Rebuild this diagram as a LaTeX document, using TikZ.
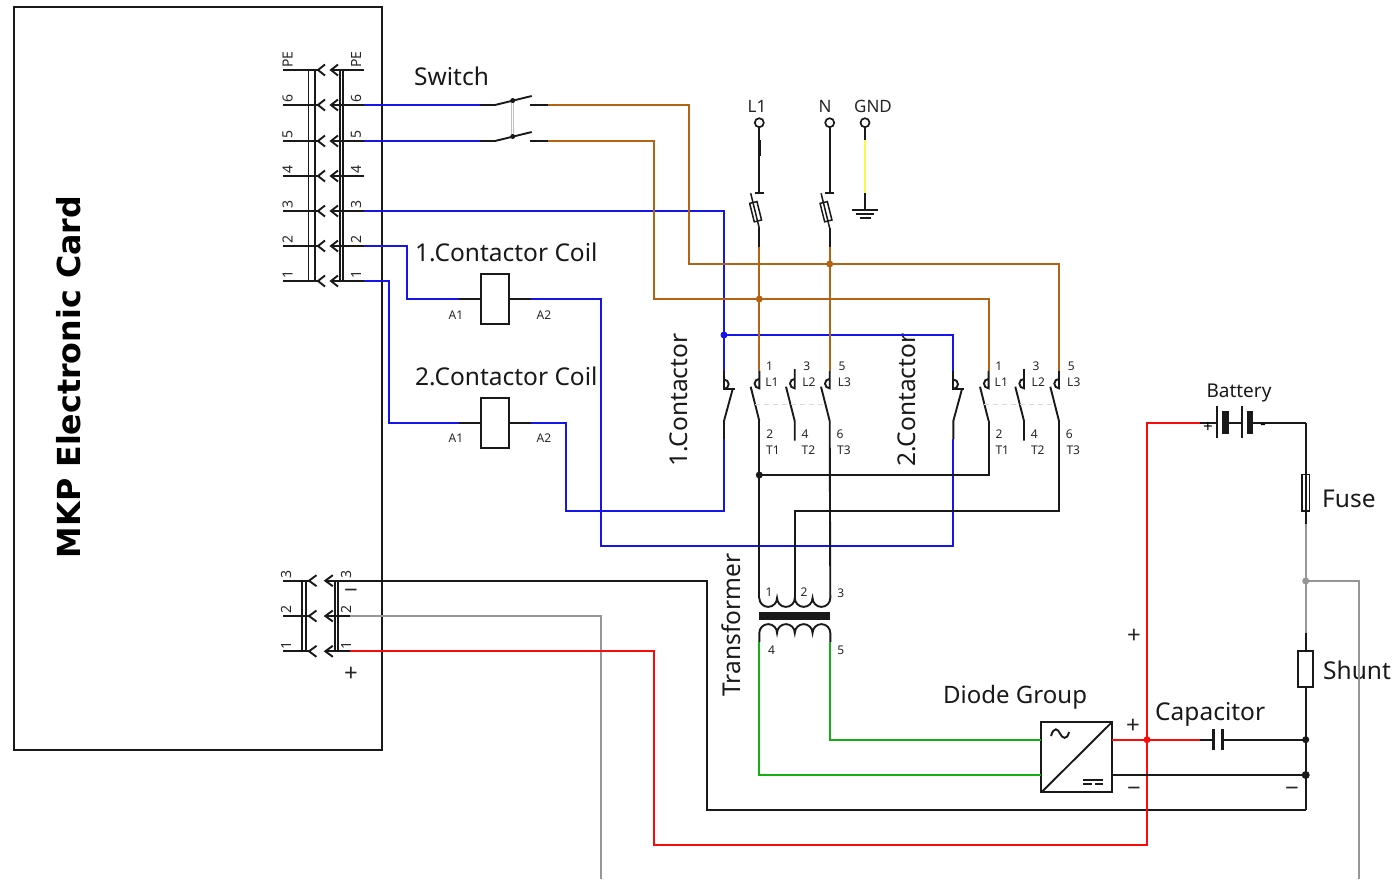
\documentclass[tikz,border=0pt]{standalone}
\usepackage{fontspec}
\usetikzlibrary{calc}
\setmainfont{Noto Sans}
\newfontfamily\boldfam{DejaVu Sans}
\definecolor{wblue}{RGB}{20,20,235}
\definecolor{wbrown}{RGB}{178,100,20}
\definecolor{wred}{RGB}{250,10,10}
\definecolor{wgray}{RGB}{150,150,150}
\definecolor{wgreen}{RGB}{20,175,20}
\definecolor{wyellow}{RGB}{250,250,70}
\newcommand{\fsz}[1]{\fontsize{#1}{#1}\selectfont}
\tikzset{
  x=1pt,y=-1pt,
  wire/.style={line width=1.9pt,line join=miter},
  blk/.style={wire,black!90},
  blu/.style={wire,wblue},
  brn/.style={wire,wbrown},
  rd/.style={wire,wred},
  gry/.style={wire,wgray},
  grn/.style={wire,wgreen},
  yel/.style={wire,wyellow},
  body/.style={draw=black!90,line width=1.9pt,fill=none,inner sep=0pt,outer sep=0pt},
  dotnode/.style={circle,fill=#1,inner sep=0pt,minimum size=7pt},
  term/.style={circle,draw=black!90,line width=1.7pt,fill=white,inner sep=0pt,minimum size=9pt},
  big/.style={font=\fsz{24.5},inner sep=0pt,text=black!90},
  mid/.style={font=\fsz{17},inner sep=0pt,text=black!85},
  small/.style={font=\fsz{12},inner sep=0pt,text=black!85},
  pinlab/.style={font=\fsz{14},inner sep=0pt,rotate=90,anchor=west,text=black!85},
  sign/.style={font=\fsz{24},inner sep=0pt,text=black!85},
}
\begin{document}
\begin{tikzpicture}
\useasboundingbox (0,0) rectangle (1398,879);

% Electronic card
\node[body,minimum width=368pt,minimum height=743pt,line width=1.6pt] (card) at (198,378.5) {};
\node[rotate=90,font=\boldfam\bfseries\fsz{31.7},inner sep=0pt] (cardlab) at (69,377) {MKP Electronic Card};

% Upper connector
\foreach \y/\t in {70/PE,105/6,141/5,176/4,211/3,246/2,281/1}{
  \coordinate (ula\t) at (283,\y);
  \coordinate (ulb\t) at (318,\y);
  \coordinate (ura\t) at (331,\y);
  \coordinate (urb\t) at (364,\y);
  \draw[blk] (ula\t) -- (ulb\t);
  \draw[blk] (ura\t) -- (urb\t);
  \draw[blk] ($(ulb\t)+(7,-5.5)$) -- (ulb\t) -- ($(ulb\t)+(7,5.5)$);
  \draw[blk] ($(ura\t)+(7,-5.5)$) -- (ura\t) -- ($(ura\t)+(7,5.5)$);
  \node[pinlab] (ult\t) at (287.5,\y-2) {\t};
  \node[pinlab] (urt\t) at (356,\y-2) {\t};
}
\draw[blk,line width=1.5pt] (308.7,70) -- (308.7,281) (315,70) -- (315,281);
\draw[blk,line width=1.8pt] (340,70) -- (340,281) (343,70) -- (343,281);

% Lower connector
\foreach \y/\t in {580.7/3,616/2,651.3/1}{
  \coordinate (lla\t) at (283,\y);
  \coordinate (llb\t) at (309,\y);
  \coordinate (lra\t) at (325.3,\y);
  \coordinate (lrb\t) at (350,\y);
  \draw[blk] (lla\t) -- (llb\t);
  \draw[blk] (lra\t) -- (lrb\t);
  \draw[blk] ($(llb\t)+(7.5,-5.5)$) -- (llb\t) -- ($(llb\t)+(7.5,5.5)$);
  \draw[blk] ($(lra\t)+(7.5,-5.5)$) -- (lra\t) -- ($(lra\t)+(7.5,5.5)$);
  \node[pinlab] (llt\t) at (286,\y-2) {\t};
  \node[pinlab] (lrt\t) at (346,\y-2) {\t};
}
\draw[blk,line width=1.6pt] (301.7,580.7) -- (301.7,651.3) (306,580.7) -- (306,651.3);
\draw[blk,line width=1.6pt] (334.7,580.7) -- (334.7,651.3) (338,580.7) -- (338,651.3);
\node[sign] (cminus) at (351,594) {−};
\node[sign] (cplus) at (351,674) {+};

% Switch
\node[big,anchor=west] (swlab) at (414,76.5) {Switch};
\coordinate (swIa) at (480,105);   \coordinate (swIb) at (495,105);
\coordinate (swIc) at (531.7,96);  \coordinate (swId) at (512.7,100.5);
\coordinate (swIe) at (530,105);   \coordinate (swIf) at (548,105);
\coordinate (swJa) at (480,141); \coordinate (swJb) at (495,141);
\coordinate (swJc) at (531.7,132);\coordinate (swJd) at (512.7,136.5);
\coordinate (swJe) at (530,141); \coordinate (swJf) at (548,141);
\draw[black!25,line width=3pt] (swId) -- (swJd);
\draw[white,line width=1.2pt] (swId) -- (swJd);
\draw[blk] (swIa) -- (swIb) -- (swIc) (swIe) -- (swIf);
\draw[blk] (swJa) -- (swJb) -- (swJc) (swJe) -- (swJf);
\fill[black!90] (swId) circle (2.5pt) (swJd) circle (2.5pt);

% Coils
\node[body,minimum width=28.5pt,minimum height=50pt] (coilA) at (495,299) {};
\node[body,minimum width=28.5pt,minimum height=50pt] (coilB) at (495,422.7) {};
\coordinate (cAl) at (459.3,299); \coordinate (cAr) at (531,299);
\coordinate (cBl) at (459.3,422.7); \coordinate (cBr) at (531,422.7);
\draw[blk] (cAl) -- (coilA.west) (coilA.east) -- (cAr);
\draw[blk] (cBl) -- (coilB.west) (coilB.east) -- (cBr);
\node[small] (a1A) at (456,315) {A1};
\node[small] (a2A) at (544,315) {A2};
\node[small] (a1B) at (456,438) {A1};
\node[small] (a2B) at (544,438) {A2};
\node[big,anchor=west] (coilAlab) at (415,252.5) {1.Contactor Coil};
\node[big,anchor=west] (coilBlab) at (415,376.5) {2.Contactor Coil};

% Mains terminals
\coordinate (L1a) at (759.3,140); \coordinate (L1b) at (759.3,155.7); \coordinate (L1c) at (759.3,193.3);
\coordinate (Na) at (829.7,140);  \coordinate (Nb) at (829.7,193.3);
\coordinate (Ga) at (865,140);    \coordinate (Gb) at (865,193);    \coordinate (Gc) at (865,210);
\node[mid] (L1lab) at (757,106) {L1};
\node[mid] (Nlab) at (825,106) {N};
\node[mid] (Glab) at (873,106) {GND};
\draw[blk] (759.3,122.7) -- (L1c);
\draw[blk,line width=3.4pt] (L1a) -- (L1b);
\draw[blk] (829.7,122.7) -- (Nb);
\draw[blk] (865,122.7) -- (Ga);
\draw[yel] (Ga) -- (Gb);
\draw[blk] (Gb) -- (Gc);
\draw[blk] (851.7,210) -- (878,210);
\draw[blk] (856,214.3) -- (874,214.3);
\draw[blk] (859.7,218.3) -- (871,218.3);
\node[term] (L1t) at (759.3,122.7) {};
\node[term] (Nt) at (829.7,122.7) {};
\node[term] (Gt) at (865,122.7) {};
\foreach \n/\x in {L/759.3,M/829.7}{
  \coordinate (f\n a) at (\x-8.6,193.3);
  \coordinate (f\n b) at (\x,228.3);
  \coordinate (f\n c) at (\x,246.7);
  \draw[blk] (\x-4.5,193.3) -- (\x+4.5,193.3);
  \draw[blk,line width=1.5pt] (f\n a) -- (f\n b);
  \draw[blk] (f\n b) -- (f\n c);
  \node[body,rotate=-76,minimum width=19pt,minimum height=7.5pt,line width=1.5pt] (f\n r) at (\x-3.7,211.7) {};
}

% Contactors
\foreach \c/\dx in {1/0,2/229.3}{
\begin{scope}[xshift=\dx pt]
  \coordinate (ncT\c) at (724,370.7);
  \coordinate (ncB\c) at (724,439);
  \coordinate (aT\c) at (759.3,370.7);
  \coordinate (bT\c) at (794.7,369);
  \coordinate (cT\c) at (829.7,370.7);
  \coordinate (aK\c) at (759.3,421);
  \coordinate (bK\c) at (794.7,421);
  \coordinate (cK\c) at (829.7,421);
  \draw[blk] (ncT\c) -- (724,389) -- (735,389);
  \draw[blk] (724,379.5) arc[start angle=90,end angle=-90,radius=4.7pt];
  \draw[blk] (732.7,389) -- (724,421) -- (ncB\c);
  \draw[blk] (aT\c) -- (759.3,388.3) arc[start angle=270,end angle=90,radius=4.7pt];
  \draw[blk] (bT\c) -- (794.7,388.3) arc[start angle=270,end angle=90,radius=4.7pt];
  \draw[blk] (cT\c) -- (829.7,388.3) arc[start angle=270,end angle=90,radius=4.7pt];
  \draw[blk] (750.7,386.7) -- (aK\c);
  \draw[blk] (786,386.7) -- (bK\c) -- (794.7,440.7);
  \draw[blk] (821,386.7) -- (cK\c);
  \draw[black!15,line width=1pt,dash pattern=on 5pt off 4pt] (755,404.3) -- (827,404.3);
  \node[small] (n1\c) at (769.5,366) {1};
  \node[small] (l1\c) at (772,382) {L1};
  \node[small] (n3\c) at (806.7,366) {3};
  \node[small] (l2\c) at (809,382) {L2};
  \node[small] (n5\c) at (842,366) {5};
  \node[small] (l3\c) at (844.5,382) {L3};
  \node[small] (n2\c) at (769.7,434) {2};
  \node[small] (t1\c) at (773,450) {T1};
  \node[small] (n4\c) at (805,434) {4};
  \node[small] (t2\c) at (808.5,450) {T2};
  \node[small] (n6\c) at (840,434) {6};
  \node[small] (t3\c) at (844,450) {T3};
\end{scope}
}
\node[big,rotate=90] (k1lab) at (679,400) {1.Contactor};
\node[big,rotate=90] (k2lab) at (907,400) {2.Contactor};

% Transformer
\node[big,rotate=90] (tlab) at (731,625) {Transformer};
\coordinate (tpA) at (759.3,598);
\coordinate (tpB) at (794.8,598);
\coordinate (tpC) at (830.3,598);
\coordinate (tsA) at (759.3,642);
\coordinate (tsB) at (830.3,642);
\node[fill=black!90,minimum width=71pt,minimum height=8.5pt,inner sep=0pt] (core) at (794.8,616) {};
\draw[blk] (tpA) arc[start angle=180,end angle=360,radius=8.875pt]
  arc[start angle=180,end angle=360,radius=8.875pt]
  arc[start angle=180,end angle=360,radius=8.875pt]
  arc[start angle=180,end angle=360,radius=8.875pt];
\draw[blk] (tsA) -- (759.3,633) arc[start angle=180,end angle=0,radius=8.875pt]
  arc[start angle=180,end angle=0,radius=8.875pt]
  arc[start angle=180,end angle=0,radius=8.875pt]
  arc[start angle=180,end angle=0,radius=8.875pt] -- (tsB);
\node[small] (tn1) at (769,592) {1};
\node[small] (tn2) at (804,592) {2};
\node[small] (tn3) at (840.7,593) {3};
\node[small] (tn4) at (771.5,650) {4};
\node[small] (tn5) at (840.7,650) {5};

% Diode group
\node[body,minimum width=70.7pt,minimum height=70.3pt] (diode) at (1076.7,757.2) {};
\draw[blk] (diode.south west) -- (diode.north east);
\draw[blk] (1051,736) .. controls (1054,726) and (1058,729) .. (1060,733.5) .. controls (1062,738) and (1067,741) .. (1069,732);
\draw[blk,line width=1.4pt] (1083.3,780) -- (1103.3,780);
\draw[blk,line width=1.4pt] (1083.3,784) -- (1091.5,784) (1095,784) -- (1103.3,784);
\node[big,anchor=west,font=\fsz{24}] (dlab) at (943,697) {Diode Group};
\node[sign] (dplus) at (1133,726) {+};
\node[sign] (dminus) at (1134,792) {−};
\node[sign] (rplus) at (1134,636) {+};
\node[sign] (sminus) at (1292,792) {−};
\coordinate (dP) at (1112,739.7);
\coordinate (dM) at (1112,775);
\coordinate (dGa) at (1041.3,739.7);
\coordinate (dGb) at (1041.3,775);

% Battery
\coordinate (batL) at (1200,422.7);
\coordinate (batM) at (1241.7,422.7);
\coordinate (batR) at (1305.7,422.7);
\draw[blk] (batL) -- (1217.3,422.7);
\draw[blk] (1229,422.7) -- (batM);
\draw[blk] (1253,422.7) -- (batR);
\draw[blk] (1217.3,406) -- (1217.3,438);
\draw[blk] (1241.7,406) -- (1241.7,438);
\node[fill=black!90,minimum width=6.7pt,minimum height=23pt,inner sep=0pt] (batA) at (1225.7,422.7) {};
\node[fill=black!90,minimum width=6.7pt,minimum height=23pt,inner sep=0pt] (batB) at (1250,422.7) {};
\node[font=\fsz{19},inner sep=0pt,text=black!90] (batlab) at (1239,393) {Battery};
\node[font=\fsz{17},inner sep=0pt] (batp) at (1208,427.5) {+};
\node[font=\fsz{17},inner sep=0pt] (batm) at (1263,427) {-};

% Fuse and shunt
\coordinate (fuT) at (1305.7,474.3);
\coordinate (fuB) at (1305.7,511);
\coordinate (fuC) at (1305.7,524.3);
\node[body,minimum width=7.3pt,minimum height=36.7pt,line width=1.5pt] (fuse) at (1305.7,492.6) {};
\node[big,anchor=west] (fulab) at (1322,499) {Fuse};
\coordinate (gJ) at (1305.7,581);
\coordinate (shT) at (1305.7,633.3);
\node[body,fill=white,minimum width=15pt,minimum height=36.3pt] (shunt) at (1305.7,669.2) {};
\node[big,anchor=west] (shlab) at (1323,670) {Shunt};
\coordinate (jA) at (1305.7,739.7);
\coordinate (jB) at (1305.7,775);
\coordinate (jC) at (1305.7,810);
\draw[blk] (batR) -- (fuC);
\draw[blk] (shT) -- (shunt.north) (shunt.south) -- (jC);

% Capacitor
\coordinate (capL) at (1200,739.7);
\draw[blk] (capL) -- (1213.3,739.7) (1222,739.7) -- (jA);
\draw[blk,line width=3pt] (1213.3,729) -- (1213.3,750) (1222,729) -- (1222,750);
\node[big,anchor=west] (caplab) at (1155,714) {Capacitor};

% Coloured and black wires
\coordinate (blA) at (724,335);
\coordinate (rdJ) at (1147,739.7);
\draw[blu] (urb6) -- (swIa);
\draw[blu] (urb5) -- (swJa);
\draw[blu] (urb3) -| (ncT1);
\draw[blu] (urb2) -- (407,246) |- (cAl);
\draw[blu] (urb1) -- (389,281) |- (cBl);
\draw[blu] (blA) -| (ncT2);
\draw[blu] (ncB1) -- (724,511) -| (566,422.7) -- (cBr);
\draw[blu] (ncB2) |- (601,546) -- (601,299) -- (cAr);
\draw[brn] (swIf) -| (689,264) -| (cT2);
\draw[brn] (swJf) -| (654,299) -| (aT2);
\draw[brn] (fLc) -- (aT1);
\draw[brn] (fMc) -- (cT1);
\draw[blk] (aK1) -- (tpA);
\draw[blk] (cK1) -- (tpC);
\draw[blk] (759.3,475) -| (aK2);
\draw[blk] (cK2) |- (794.8,511) -- (tpB);
\draw[blk] (lrb3) -| (707,810) -- (jC);
\draw[gry] (lrb2) -| (601,879);
\draw[rd] (lrb1) -| (654,845) -| (rdJ) |- (batL);
\draw[rd] (dP) -- (capL);
\draw[gry] (fuC) -- (shT);
\draw[gry] (gJ) -| (1358.7,879);
\draw[grn] (tsB) |- (dGa);
\draw[grn] (tsA) |- (dGb);
\draw[blk] (dM) -- (jB);

% Junction dots
\node[dotnode=wblue] (d1) at (blA) {};
\node[dotnode=wbrown] (d2) at (829.7,264) {};
\node[dotnode=wbrown] (d3) at (759.3,299) {};
\node[dotnode=black!90] (d4) at (759.3,475) {};
\node[dotnode=wred] (d5) at (rdJ) {};
\node[dotnode=wgray] (d6) at (gJ) {};
\node[dotnode=black!90] (d7) at (jA) {};
\node[dotnode=black!90,minimum size=8pt] (d8) at (jB) {};
\end{tikzpicture}
\end{document}
